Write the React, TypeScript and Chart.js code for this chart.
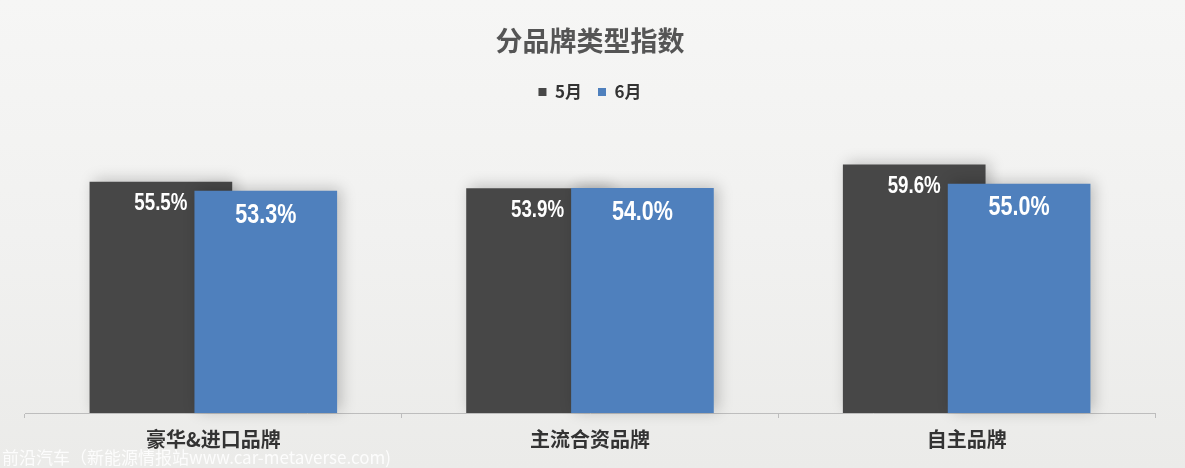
import React, { useEffect, useRef } from 'react';
import { Chart, registerables } from 'chart.js';

Chart.register(...registerables);

const chartTitle = '分品牌类型指数';
const categories = ['豪华&进口品牌', '主流合资品牌', '自主品牌'];
const seriesLabels = ['5月', '6月'];
const mayValues = [55.5, 53.9, 59.6];
const juneValues = [53.3, 54.0, 55.0];
const watermark = '前沿汽车（新能源情报站www.car-metaverse.com)';

const DARK = '#474747';
const BLUE = '#4f80bd';
const CJK = '"Noto Sans CJK SC", "Noto Sans", sans-serif';
const LABEL_FONT = '"Liberation Sans", Arial, sans-serif';

const setShadow = (ctx: CanvasRenderingContext2D) => {
  ctx.shadowColor = 'rgba(0,0,0,0.22)';
  ctx.shadowBlur = 14;
  ctx.shadowOffsetX = 4;
  ctx.shadowOffsetY = -2;
};

const overlapPlugin = {
  id: 'overlapAndLabels',
  beforeDatasetDraw(chart: any, args: any) {
    if (args.index === 1 && !chart.$drawingBlue) return false;
    chart.ctx.save();
    setShadow(chart.ctx);
    return true;
  },
  afterDatasetDraw(chart: any) {
    chart.ctx.restore();
  },
  afterDatasetsDraw(chart: any) {
    const ctx = chart.ctx;
    const blueMeta = chart.getDatasetMeta(1);
    if (!blueMeta.hidden) {
      chart.$drawingBlue = true;
      ctx.save();
      setShadow(ctx);
      blueMeta.controller.draw();
      ctx.restore();
      chart.$drawingBlue = false;
    }
    [0, 1].forEach((di) => {
      const meta = chart.getDatasetMeta(di);
      if (meta.hidden) return;
      meta.data.forEach((bar: any, i: number) => {
        const v = chart.data.datasets[di].data[i] as number;
        ctx.save();
        ctx.translate(bar.x, bar.y + (di === 0 ? 22 : 24));
        ctx.scale(di === 0 ? 0.78 : 0.77, 1);
        ctx.font = di === 0 ? `bold 24px ${LABEL_FONT}` : `bold 28px ${LABEL_FONT}`;
        ctx.fillStyle = '#ffffff';
        ctx.textAlign = 'center';
        ctx.textBaseline = 'middle';
        ctx.fillText(v.toFixed(1) + '%', 0, 0);
        ctx.restore();
      });
    });
  },
};

export default function App() {
  const canvasRef = useRef<HTMLCanvasElement | null>(null);

  useEffect(() => {
    if (!canvasRef.current) return;
    const chart = new Chart(canvasRef.current, {
      type: 'bar',
      data: {
        labels: categories,
        datasets: [
          {
            label: seriesLabels[0],
            data: mayValues,
            backgroundColor: DARK,
            borderWidth: 0,
            categoryPercentage: 0.557,
            barPercentage: 1.36,
          },
          {
            label: seriesLabels[1],
            data: juneValues,
            backgroundColor: BLUE,
            borderWidth: 0,
            categoryPercentage: 0.557,
            barPercentage: 1.36,
          },
        ],
      },
      options: {
        animation: false,
        responsive: true,
        maintainAspectRatio: false,
        layout: { padding: { left: 25, right: 30, top: 0, bottom: 8 } },
        plugins: {
          title: {
            display: true,
            text: chartTitle,
            color: '#555555',
            font: { family: CJK, size: 27, weight: 'bold' },
            padding: { top: 25, bottom: 10 },
          },
          legend: {
            display: true,
            position: 'top',
            labels: {
              boxWidth: 8,
              boxHeight: 8,
              color: '#333333',
              font: { family: CJK, size: 17, weight: 'bold' },
              padding: 16,
            },
          },
          tooltip: { enabled: false },
        },
        scales: {
          x: {
            grid: {
              display: true,
              drawOnChartArea: false,
              drawTicks: true,
              tickLength: 5,
              color: '#bdbdbd',
              offset: true,
            },
            border: { display: true, color: '#bdbdbd', width: 1 },
            ticks: {
              color: '#333333',
              font: { family: CJK, size: 20, weight: 'bold' },
              padding: 9,
            },
          },
          y: {
            display: false,
            min: 0,
            max: 72.6,
          },
        },
      },
      plugins: [overlapPlugin],
    });
    return () => chart.destroy();
  }, []);

  return (
    <div
      style={{
        position: 'fixed',
        left: 0,
        top: 0,
        width: 1185,
        height: 468,
        background: 'linear-gradient(180deg, #f6f6f5 0%, #f1f1f0 50%, #ebebe9 100%)',
        overflow: 'hidden',
      }}
    >
      <canvas ref={canvasRef} style={{ display: 'block', width: 1185, height: 468 }} />
      <div
        style={{
          position: 'absolute',
          left: 2,
          top: 445,
          fontFamily: CJK,
          fontSize: 17,
          lineHeight: '24px',
          color: 'rgba(255,255,255,0.85)',
          whiteSpace: 'nowrap',
        }}
      >
        {watermark}
      </div>
    </div>
  );
}
